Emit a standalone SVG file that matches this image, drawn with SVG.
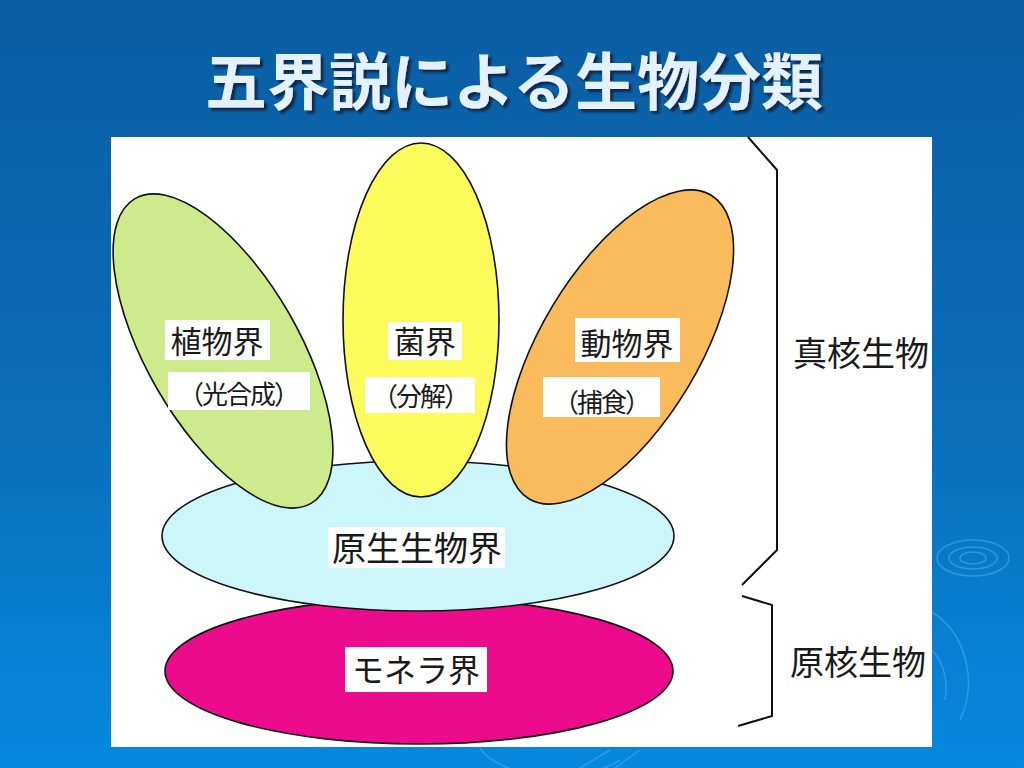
<svg xmlns="http://www.w3.org/2000/svg" width="1024" height="768" viewBox="0 0 1024 768">
<defs>
<linearGradient id="bg" x1="0" y1="0" x2="0" y2="1">
<stop offset="0" stop-color="#0b5da3"/>
<stop offset="0.5" stop-color="#0a6cb6"/>
<stop offset="1" stop-color="#0689e0"/>
</linearGradient>
<filter id="shadow" x="-5%" y="-20%" width="110%" height="140%">
<feDropShadow dx="3" dy="3" stdDeviation="1" flood-color="#0a2238" flood-opacity="0.85"/>
</filter>
<style>
.lbl{font-family:"Noto Sans CJK JP","Liberation Sans",sans-serif;fill:#1a1a1a;}
.box{fill:#ffffff;}
.edge{stroke:#111;stroke-width:1.6;}
.ripple{fill:none;stroke:#5fb4f0;stroke-opacity:0.45;stroke-width:1.5;}
.brace{fill:none;stroke:#111;stroke-width:2;}
</style>
</defs>
<rect x="0" y="0" width="1024" height="768" fill="url(#bg)"/>
<g id="ripples">
<ellipse class="ripple" cx="973" cy="558" rx="36" ry="18"/>
<ellipse class="ripple" cx="973" cy="558" rx="24" ry="11"/>
<ellipse class="ripple" cx="973" cy="558" rx="13" ry="6"/>
<path class="ripple" d="M932 612 A70 80 0 0 1 960 720"/>
<path class="ripple" d="M932 650 A40 50 0 0 1 945 700"/>
<path class="ripple" d="M480 748 A80 40 0 0 0 620 760"/>
<path class="ripple" d="M610 750 L580 768"/>
<path class="ripple" d="M640 750 L615 768"/>
</g>
<text x="514" y="105" font-family="'Noto Sans CJK JP','Liberation Sans',sans-serif" font-weight="bold" font-size="62" text-anchor="middle" fill="#e4f1ff" filter="url(#shadow)">五界説による生物分類</text>
<rect x="111" y="137" width="821" height="610" fill="#ffffff"/>
<g id="monera">
<ellipse class="edge" cx="419" cy="671" rx="254" ry="73" fill="#ec0b8c"/>
</g>
<g id="protista">
<ellipse class="edge" cx="418" cy="536" rx="256" ry="75" fill="#cdf6fb"/>
</g>
<g id="plantae">
<ellipse class="edge" cx="223" cy="351" rx="76" ry="176" transform="rotate(-30 223 351)" fill="#cdeb8d"/>
</g>
<g id="fungi">
<ellipse class="edge" cx="421" cy="320" rx="78" ry="177" fill="#fbfb5c"/>
</g>
<g id="animalia">
<ellipse class="edge" cx="620" cy="347" rx="79" ry="177" transform="rotate(31 620 347)" fill="#f9bb5c"/>
</g>
<g id="labels">
<rect class="box" x="165" y="320" width="105" height="40"/>
<text class="lbl" x="217" y="353" font-size="31" text-anchor="middle">植物界</text>
<rect class="box" x="168" y="372" width="142" height="38"/>
<text class="lbl" x="238" y="404" font-size="26" text-anchor="middle" letter-spacing="-2">（光合成）</text>
<rect class="box" x="388" y="322" width="74" height="38"/>
<text class="lbl" x="425" y="353" font-size="31" text-anchor="middle">菌界</text>
<rect class="box" x="365" y="377" width="110" height="36"/>
<text class="lbl" x="420" y="406" font-size="26" text-anchor="middle" letter-spacing="-2">（分解）</text>
<rect class="box" x="575" y="318" width="105" height="44"/>
<text class="lbl" x="627" y="355" font-size="31" text-anchor="middle">動物界</text>
<rect class="box" x="543" y="377" width="117" height="40"/>
<text class="lbl" x="601" y="412" font-size="26" text-anchor="middle" letter-spacing="-2">（捕食）</text>
<rect class="box" x="328" y="527" width="177" height="41"/>
<text class="lbl" x="417" y="561" font-size="34" text-anchor="middle">原生生物界</text>
<rect class="box" x="345" y="647" width="142" height="45"/>
<text class="lbl" x="416" y="682" font-size="32" text-anchor="middle">モネラ界</text>
</g>
<g id="connectors">
<path class="brace" d="M748 137 L777 170 L777 550 L742 585"/>
<path class="brace" d="M742 596 L772 605 L772 716 L738 726"/>
</g>
<g id="groups">
<text class="lbl" x="861" y="366" font-size="34" text-anchor="middle">真核生物</text>
<text class="lbl" x="858" y="675" font-size="34" text-anchor="middle">原核生物</text>
</g>
</svg>
